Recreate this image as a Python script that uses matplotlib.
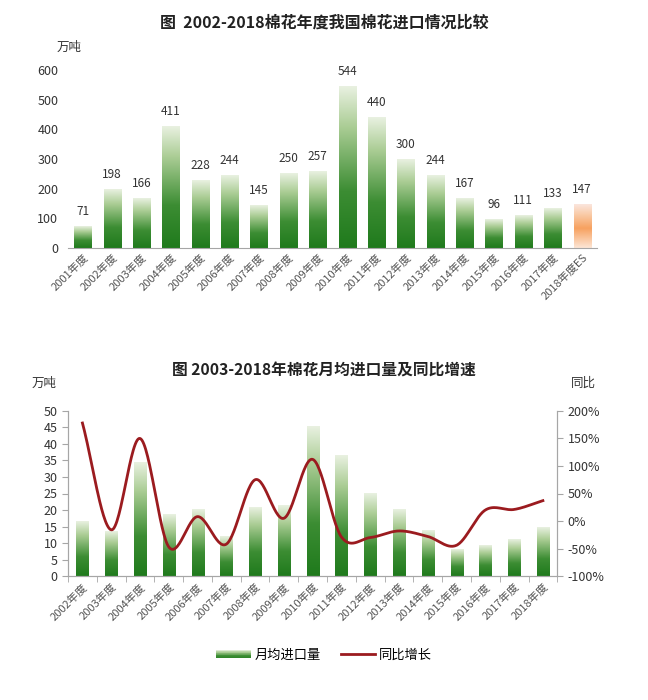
import numpy as np
import matplotlib
matplotlib.use("Agg")
import matplotlib.pyplot as plt
from matplotlib.colors import LinearSegmentedColormap
from matplotlib.lines import Line2D
from matplotlib.patches import Patch, Rectangle
from matplotlib.legend_handler import HandlerBase

plt.rcParams['font.family'] = ['Noto Sans CJK SC', 'DejaVu Sans']

# top chart: annual imports (万吨)
years_top = ['2001年度', '2002年度', '2003年度', '2004年度', '2005年度', '2006年度',
             '2007年度', '2008年度', '2009年度', '2010年度', '2011年度', '2012年度',
             '2013年度', '2014年度', '2015年度', '2016年度', '2017年度', '2018年度ES']
imports = [71, 198, 166, 411, 228, 244, 145, 250, 257, 544, 440, 300, 244, 167, 96, 111, 133, 147]

# bottom chart: monthly average imports (万吨) and yoy growth (%)
years_bot = ['2002年度', '2003年度', '2004年度', '2005年度', '2006年度', '2007年度',
             '2008年度', '2009年度', '2010年度', '2011年度', '2012年度', '2013年度',
             '2014年度', '2015年度', '2016年度', '2017年度', '2018年度']
monthly = [16.5, 13.5, 34.5, 18.7, 20.0, 12.0, 20.8, 21.3, 45.3, 36.5, 25.0, 20.0,
           13.9, 8.0, 9.3, 11.0, 14.8]
yoy = [178, -16, 150, -47, 8, -42, 75, 5, 112, -29, -30, -18, -28, -44, 20, 21, 37]

green = LinearSegmentedColormap.from_list(
    'g', [(0, '#1f7a1c'), (0.35, '#3c8d33'), (0.75, '#abcd95'), (1, '#e9f1e1')])
orange = LinearSegmentedColormap.from_list(
    'o', [(0, '#fde6d6'), (0.45, '#f7a160'), (0.75, '#f9c9a4'), (1, '#fbe6de')])
grad = np.linspace(0, 1, 256).reshape(-1, 1)


def gradient_bars(ax, xs, hs, width, cmaps):
    for x, h, cm in zip(xs, hs, cmaps):
        ax.imshow(grad, cmap=cm, origin='lower', aspect='auto',
                  extent=[x - width / 2, x + width / 2, 0, h], zorder=2)


def smooth_curve(x, y, n=30):
    # Catmull-Rom style smoothing like Excel's smoothed line
    x = np.asarray(x, float)
    y = np.asarray(y, float)
    px = np.concatenate([[2 * x[0] - x[1]], x, [2 * x[-1] - x[-2]]])
    py = np.concatenate([[2 * y[0] - y[1]], y, [2 * y[-1] - y[-2]]])
    xs, ys = [], []
    t = np.linspace(0, 1, n, endpoint=False)
    for i in range(1, len(px) - 2):
        for arr, out in ((px, xs), (py, ys)):
            p0, p1, p2, p3 = arr[i - 1], arr[i], arr[i + 1], arr[i + 2]
            out.extend(0.5 * (2 * p1 + (-p0 + p2) * t + (2 * p0 - 5 * p1 + 4 * p2 - p3) * t ** 2
                              + (-p0 + 3 * p1 - 3 * p2 + p3) * t ** 3))
    xs.append(x[-1])
    ys.append(y[-1])
    return np.array(xs), np.array(ys)


class GradientHandler(HandlerBase):
    def create_artists(self, legend, orig_handle, xdescent, ydescent,
                       width, height, fontsize, trans):
        n = 12
        arts = []
        for i in range(n):
            r = Rectangle((-xdescent, -ydescent + height * i / n), width, height / n + 0.2,
                          facecolor=green(0.15 + 0.8 * i / (n - 1)), edgecolor='none',
                          transform=trans)
            arts.append(r)
        return arts


fig = plt.figure(figsize=(6.48, 7.0), dpi=100)
grey = '#a6a6a6'
tcol = '#333333'

# ---- top chart
ax1 = fig.add_axes([0.105, 0.646, 0.816, 0.254])
xt = np.arange(len(imports))
cmaps = [green] * (len(imports) - 1) + [orange]
gradient_bars(ax1, xt, imports, 0.58, cmaps)
for x, v in zip(xt, imports):
    ax1.text(x, v + 28, str(v), ha='center', va='bottom', fontsize=8.5, color=tcol)
ax1.set_xlim(-0.5, len(imports) - 0.5)
ax1.set_ylim(0, 600)
ax1.set_yticks(range(0, 601, 100))
ax1.set_xticks(xt)
ax1.set_xticklabels(years_top, rotation=45, ha='right', rotation_mode='anchor',
                    fontsize=8, color='#555555')
for s in ['top', 'right', 'left']:
    ax1.spines[s].set_visible(False)
ax1.spines['bottom'].set_color(grey)
ax1.tick_params(axis='y', length=0, labelsize=9, colors=tcol, pad=7)
ax1.tick_params(axis='x', length=0, pad=3)
fig.text(0.5, 0.968, '图  2002-2018棉花年度我国棉花进口情况比较', ha='center', va='center',
         fontsize=11.5, fontweight='bold', color='#222222')
fig.text(0.107, 0.933, '万吨', ha='center', va='center', fontsize=9, color=tcol)

# ---- bottom chart
ax2 = fig.add_axes([0.105, 0.177, 0.755, 0.236])
xb = np.arange(len(monthly))
gradient_bars(ax2, xb, monthly, 0.42, [green] * len(monthly))
ax2.set_xlim(-0.5, len(monthly) - 0.5)
ax2.set_ylim(0, 50)
ax2.set_yticks(range(0, 51, 5))
ax2.set_xticks(xb)
ax2.set_xticks(np.arange(-0.5, len(monthly), 1), minor=True)
ax2.set_xticklabels(years_bot, rotation=45, ha='right', rotation_mode='anchor',
                    fontsize=8, color='#555555')
ax2.tick_params(axis='x', which='major', length=0, pad=4)
ax2.tick_params(axis='x', which='minor', length=4, color=grey)
ax2.tick_params(axis='y', labelsize=9, colors=tcol, length=4, color=grey)
ax2.spines['top'].set_visible(False)
for s in ['left', 'right', 'bottom']:
    ax2.spines[s].set_color(grey)

ax3 = ax2.twinx()
sx, sy = smooth_curve(xb, yoy)
ax3.plot(sx, sy, color='#9b1b1f', lw=2, zorder=3)
ax3.set_ylim(-100, 200)
ax3.set_yticks(range(-100, 201, 50))
ax3.set_yticklabels([f'{v}%' for v in range(-100, 201, 50)])
ax3.tick_params(axis='y', labelsize=9, colors=tcol, length=4, color=grey)
ax3.spines['top'].set_visible(False)
for s in ['left', 'right', 'bottom']:
    ax3.spines[s].set_color(grey)

fig.text(0.5, 0.47, '图 2003-2018年棉花月均进口量及同比增速', ha='center', va='center',
         fontsize=11.3, fontweight='bold', color='#222222')
fig.text(0.068, 0.453, '万吨', ha='center', va='center', fontsize=9, color=tcol)
fig.text(0.9, 0.453, '同比', ha='center', va='center', fontsize=9, color=tcol)

bar_handle = Patch(facecolor='#4a9640', edgecolor='none', label='月均进口量')
handles = [bar_handle, Line2D([], [], color='#9b1b1f', lw=2, label='同比增长')]
fig.legend(handles=handles, loc='center', bbox_to_anchor=(0.5, 0.064), ncol=2,
           frameon=False, fontsize=9.5, handlelength=2.6, handleheight=0.6,
           columnspacing=1.5, handletextpad=0.3,
           handler_map={bar_handle: GradientHandler()})

fig.savefig('out.png', dpi=100, facecolor='white')
